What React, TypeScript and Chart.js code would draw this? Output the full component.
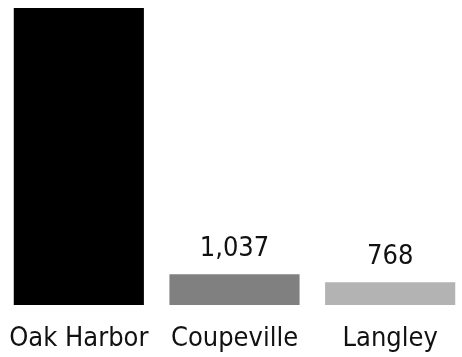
import React, { useEffect, useRef } from "react";
import { Chart, registerables } from "chart.js";

Chart.register(...registerables);

const categories = ["Oak Harbor", "Coupeville", "Langley"];
const populations = [24622, 1037, 768];
const barColors = ["#000000", "#808080", "#b3b3b3"];
const yMax = 10000;

const FONT = "'DejaVu Sans Condensed', 'DejaVu Sans', sans-serif";

const valueLabels = {
  id: "valueLabels",
  afterDatasetsDraw(chart: any) {
    const { ctx, chartArea } = chart;
    const meta = chart.getDatasetMeta(0);
    ctx.save();
    ctx.font = `27px ${FONT}`;
    ctx.fillStyle = "#111111";
    ctx.textAlign = "center";
    ctx.textBaseline = "middle";
    meta.data.forEach((bar: any, i: number) => {
      const v = populations[i];
      if (v > yMax) return;
      const y = bar.y - 25;
      if (y < chartArea.top) return;
      ctx.fillText(v.toLocaleString("en-US"), bar.x, y);
    });
    ctx.restore();
  },
};

export default function App() {
  const ref = useRef<HTMLCanvasElement | null>(null);
  useEffect(() => {
    if (!ref.current) return;
    const chart = new Chart(ref.current, {
      type: "bar",
      data: {
        labels: categories,
        datasets: [
          {
            data: populations,
            backgroundColor: barColors,
            borderWidth: 0,
            barPercentage: 0.836,
            categoryPercentage: 1,
          },
        ],
      },
      options: {
        animation: false,
        responsive: false,
        maintainAspectRatio: false,
        layout: { padding: { top: 8, bottom: 0, left: 0, right: 0 } },
        plugins: { legend: { display: false }, tooltip: { enabled: false } },
        scales: {
          x: {
            grid: { display: false, drawTicks: false },
            border: { display: false },
            ticks: { color: "#111111", font: { family: FONT, size: 27 }, padding: 18, maxRotation: 0, autoSkip: false },
            afterFit: (s: any) => {
              s.height = 52;
              s.paddingLeft = 0;
              s.paddingRight = 0;
            },
          },
          y: { display: false, min: 0, max: yMax },
        },
      },
      plugins: [valueLabels],
    });
    return () => chart.destroy();
  }, []);
  return (
    <div style={{ position: "absolute", left: 0, top: 0, width: 462, height: 357, overflow: "hidden", background: "#fff" }}>
      <canvas ref={ref} width={467} height={357} style={{ position: "absolute", left: 1, top: 0, width: 467, height: 357 }} />
    </div>
  );
}
